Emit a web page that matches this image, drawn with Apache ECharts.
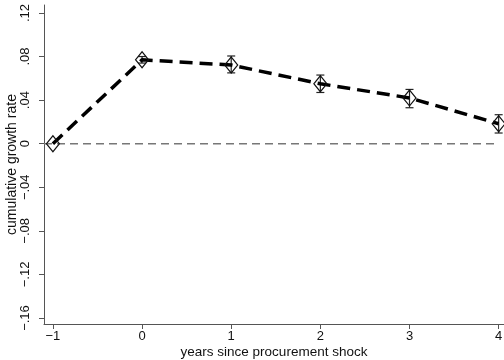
<!DOCTYPE html>
<html>
<head>
<meta charset="utf-8">
<script src="https://cdn.jsdelivr.net/npm/echarts@6/dist/echarts.min.js"></script>
<style>
  html, body { margin: 0; padding: 0; background: #fff; }
  #chart { width: 504px; height: 360px; }
</style>
</head>
<body>
<div id="chart"></div>
<script>
// years relative to the shock and the estimates
var years = [-1, 0, 1, 2, 3, 4];
var growth = [0, 0.077, 0.0722, 0.055, 0.042, 0.0183];
var ciLow = [null, 0.074, 0.065, 0.047, 0.033, 0.0098];
var ciHigh = [null, 0.080, 0.0805, 0.063, 0.0498, 0.0266];
var yTicks = [-0.16, -0.12, -0.08, -0.04, 0, 0.04, 0.08, 0.12];
var xTicks = [-1, 0, 1, 2, 3, 4];
var zeroLineX = [-1.1, 4];

var font = 'Liberation Sans';

function fmtY (v) {
  if (Math.abs(v) < 1e-9) return '0';
  var s = Math.abs(v).toFixed(2).replace(/^0/, '');
  return (v < 0 ? '\u2212' : '') + s;
}

var chart = echarts.init(document.getElementById('chart'));

var pts = years.map(function (x, i) { return [x, growth[i]]; });
var bars = [];
years.forEach(function (x, i) {
  if (ciLow[i] != null) bars.push([x, ciLow[i], ciHigh[i]]);
});

var option = {
  animation: false,
  backgroundColor: '#fff',
  grid: { left: 44, right: 0, top: 5, bottom: 36, containLabel: false, outerBoundsMode: 'none' },
  xAxis: {
    type: 'value',
    min: -1.1,
    max: 4.06,
    name: 'years since procurement shock',
    nameLocation: 'middle',
    nameGap: 21,
    nameMoveOverlap: false,
    nameTextStyle: { fontFamily: font, fontSize: 13.5, color: '#111' },
    axisLine: { show: true, onZero: false, lineStyle: { color: '#555', width: 1 } },
    axisTick: { show: true, length: 5, customValues: xTicks, lineStyle: { color: '#555' } },
    axisLabel: {
      customValues: xTicks,
      margin: 6,
      fontFamily: font, fontSize: 13, color: '#111',
      formatter: function (v) { return v < 0 ? '\u2212' + Math.abs(v) : String(v); }
    },
    splitLine: { show: false }
  },
  yAxis: {
    type: 'value',
    min: -0.1655,
    max: 0.1273,
    name: 'cumulative growth rate',
    nameLocation: 'middle',
    nameGap: 25,
    nameMoveOverlap: false,
    nameTextStyle: { fontFamily: font, fontSize: 14, color: '#111' },
    axisLine: { show: true, onZero: false, lineStyle: { color: '#555', width: 1 } },
    axisTick: { show: true, length: 5, customValues: yTicks, lineStyle: { color: '#555' } },
    axisLabel: {
      customValues: yTicks,
      rotate: 90,
      margin: 12,
      fontFamily: font, fontSize: 13, color: '#111',
      formatter: fmtY
    },
    splitLine: { show: false }
  },
  series: [
    {
      name: 'zero',
      type: 'line',
      data: zeroLineX.map(function (x) { return [x, 0]; }),
      symbol: 'none',
      lineStyle: { color: '#777', width: 1.5, type: [8, 5] },
      silent: true,
      z: 1
    },
    {
      name: 'ci',
      type: 'custom',
      data: bars,
      z: 3,
      renderItem: function (params, api) {
        var x = api.value(0);
        var lo = api.coord([x, api.value(1)]);
        var hi = api.coord([x, api.value(2)]);
        var w = 4;
        var st = { stroke: '#222', lineWidth: 1.2 };
        return {
          type: 'group',
          children: [
            { type: 'line', shape: { x1: lo[0], y1: lo[1], x2: hi[0], y2: hi[1] }, style: st },
            { type: 'line', shape: { x1: lo[0] - w, y1: lo[1], x2: lo[0] + w, y2: lo[1] }, style: st },
            { type: 'line', shape: { x1: hi[0] - w, y1: hi[1], x2: hi[0] + w, y2: hi[1] }, style: st }
          ]
        };
      }
    },
    {
      name: 'growth',
      type: 'line',
      data: pts,
      z: 4,
      symbol: 'diamond',
      symbolSize: [13, 16],
      showAllSymbol: true,
      lineStyle: { color: '#000', width: 3.5, type: [13, 7] },
      itemStyle: { color: 'rgba(255,255,255,0)', borderColor: '#111', borderWidth: 1.2 }
    }
  ]
};

chart.setOption(option);
</script>
</body>
</html>
